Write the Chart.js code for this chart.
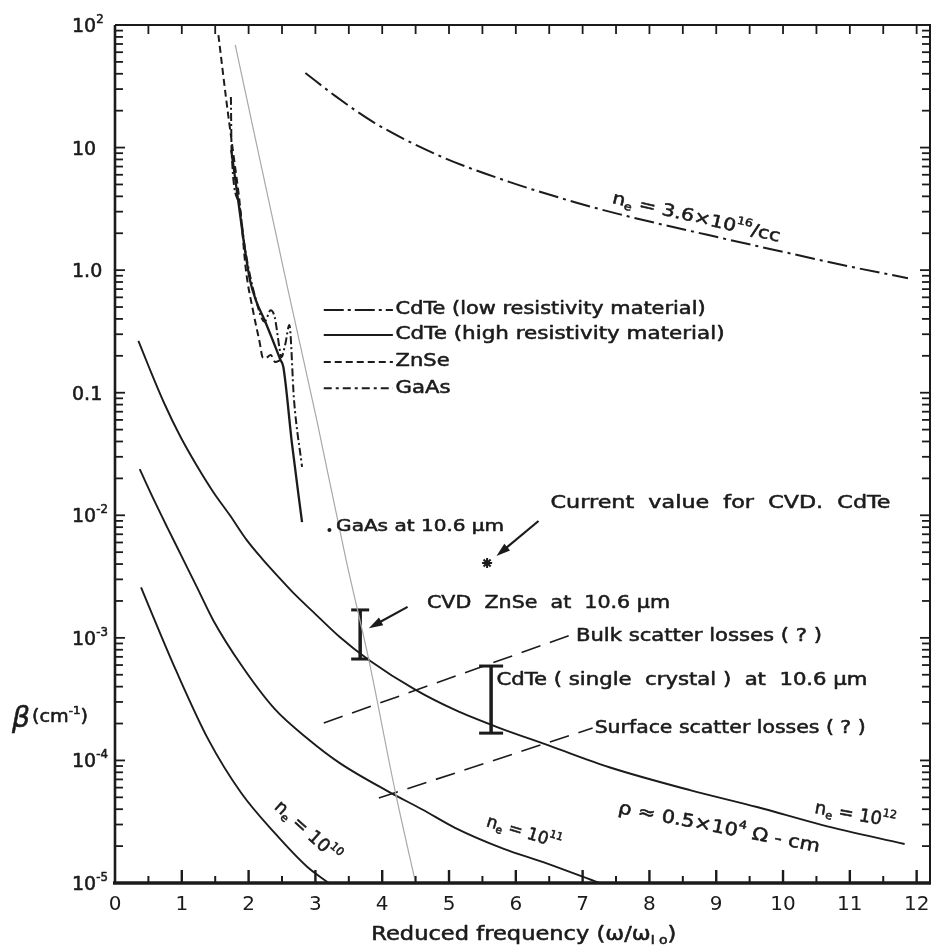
<!DOCTYPE html>
<html><head><meta charset="utf-8">
<script src="https://cdn.jsdelivr.net/npm/chart.js@4/dist/chart.umd.min.js"></script>
<style>html,body{margin:0;padding:0;background:#fff}#c{display:block}</style>
</head><body>
<canvas id="c" width="945" height="950"></canvas>
<script>
// ---------------- data ----------------
const xTickVals = [0,1,2,3,4,5,6,7,8,9,10,11,12];
const yDecades = [1e-5,1e-4,1e-3,1e-2,1e-1,1,10,100];
const yDecadeLabels = [["10","-5"],["10","-4"],["10","-3"],["10","-2"],["0.1",""],["1.0",""],["10",""],["10","2"]];

// n_e = 3.6e16/cc (CdTe low resistivity)
const ne16X = [2.85, 3.3, 3.89, 4.87, 5.9, 6.91, 7.56, 8.85, 10.13, 11.0, 11.87];
const ne16Y = [40.6, 26.3, 15.85, 8.5, 5.25, 3.55, 2.85, 1.95, 1.36, 1.07, 0.86];
// n_e = 10^12
const ne12X = [0.35, 0.5, 0.74, 0.98, 1.23, 1.47, 1.72, 1.97, 2.21, 2.46, 2.70, 2.95, 3.36, 3.80, 4.50, 5.09, 5.72, 6.5, 7.40, 8.62, 9.61, 10.59, 11.82];
const ne12Y = [0.265, 0.166, 0.0813, 0.0437, 0.0251, 0.0155, 0.0100, 6.3e-3, 4.37e-3, 3.09e-3, 2.24e-3, 1.66e-3, 1.02e-3, 6.6e-4, 3.76e-4, 2.58e-4, 1.87e-4, 1.32e-4, 8.8e-5, 5.7e-5, 4.17e-5, 2.97e-5, 2.08e-5];
// n_e = 10^11
const ne11X = [0.37, 0.59, 0.786, 0.983, 1.228, 1.474, 1.89, 2.39, 2.88, 3.36, 4.08, 4.60, 5.09, 5.82, 6.41, 7.25];
const ne11Y = [0.0238, 0.0131, 7.9e-3, 4.8e-3, 2.58e-3, 1.38e-3, 6.0e-4, 2.63e-4, 1.51e-4, 9.55e-5, 5.62e-5, 3.98e-5, 2.82e-5, 1.9e-5, 1.48e-5, 1e-5];
// n_e = 10^10
const ne10X = [0.39, 0.64, 0.91, 1.40, 1.89, 2.39, 2.88, 3.20];
const ne10Y = [2.58e-3, 1.21e-3, 5.47e-4, 1.47e-4, 5.42e-5, 2.56e-5, 1.35e-5, 1e-5];
// faint straight line
const faintX = [1.80, 2.58, 3.02, 3.46, 3.80, 4.20, 4.50];
const faintY = [68.7, 0.73, 0.06, 4.3e-3, 6.6e-4, 5.4e-5, 1e-5];
// lattice absorption curves
const cdteHiX = [1.74, 1.843, 1.946, 2.02, 2.108, 2.24, 2.36, 2.477, 2.52, 2.65, 2.80];
const cdteHiY = [9.55, 3.73, 1.46, 0.83, 0.57, 0.39, 0.269, 0.185, 0.162, 0.038, 8.8e-3];
const znseX = [1.548, 1.666, 1.77, 1.87, 1.96, 2.064, 2.167, 2.21, 2.256, 2.33, 2.40, 2.477];
const znseY = [82.8, 24.4, 9.0, 3.4, 1.0, 0.473, 0.255, 0.195, 0.192, 0.203, 0.178, 0.185];
const gaasX = [1.735, 1.745, 1.85, 1.95, 2.10, 2.24, 2.33, 2.39, 2.46, 2.49, 2.55, 2.61, 2.68, 2.80];
const gaasY = [25.9, 9.5, 3.6, 1.45, 0.6, 0.38, 0.47, 0.415, 0.236, 0.195, 0.25, 0.356, 0.087, 0.0248];
// scatter-loss lines
const bulkX = [3.125, 6.855];
const bulkY = [2.02e-4, 1.07e-3];
const surfX = [3.95, 7.15];
const surfY = [4.93e-5, 1.84e-4];
// measurements
const znseBarX = [3.67, 3.67];
const znseBarY = [1.69e-3, 6.72e-4];
const cdteBarX = [5.63, 5.63];
const cdteBarY = [5.89e-4, 1.67e-4];
const starPt = [5.57, 4.08e-3];
const gaasPt = [3.21, 7.59e-3];

// ---------------- text / annotation placement (data coords) ----------------
const FONT = '"DejaVu Sans", sans-serif';
const INK = '#1b1b1b';
const notes = [
  {x:8.70, y:2.66, rot:13, align:'center', size:17, w:172, parts:[['n',''],['e','sub'],[' = 3.6×10',''],['16','sup'],['/cc','']]},
  {x:11.08, y:3.55e-5, rot:10, align:'center', size:18, parts:[['n',''],['e','sub'],[' = 10',''],['12','sup']]},
  {x:9.04, y:2.81e-5, rot:11, align:'center', size:18, w:205, parts:[['ρ ≈ 0.5×10',''],['4','sup'],[' Ω - cm','']]},
  {x:6.12, y:2.56e-5, rot:17, align:'center', size:17, parts:[['n',''],['e','sub'],[' = 10',''],['11','sup']]},
  {x:2.875, y:2.61e-5, rot:42, align:'center', size:18, parts:[['n',''],['e','sub'],[' = 10',''],['10','sup']]},
  {x:3.31, y:8.0e-3, size:16, w:168, parts:[['GaAs at 10.6 µm','']]},
  {x:6.52, y:0.0126, size:18, w:340, parts:[['Current  value  for  CVD.  CdTe','']]},
  {x:4.67, y:1.92e-3, size:18, w:243, parts:[['CVD  ZnSe  at  10.6 µm','']]},
  {x:6.90, y:1.035e-3, size:18, w:246, parts:[['Bulk scatter losses ( ? )','']]},
  {x:5.71, y:4.53e-4, size:18, w:371, parts:[['CdTe ( single  crystal )  at  10.6 µm','']]},
  {x:7.18, y:1.84e-4, size:18, w:271, parts:[['Surface scatter losses ( ? )','']]}
];
const legendRows = [
  {y:0.473, dash:[20,4,3,4], text:'CdTe (low resistivity material)', w:310},
  {y:0.296, dash:[], text:'CdTe (high resistivity material)', w:329},
  {y:0.178, dash:[7,4], text:'ZnSe', w:54},
  {y:0.109, dash:[8,4,3,4], text:'GaAs', w:55}
];
const legendLineX = [3.125, 4.16];
const legendTextX = 4.2;
const arrows = [
  {from:[6.34, 8.98e-3], to:[5.71, 4.65e-3]},
  {from:[4.38, 1.79e-3], to:[3.80, 1.2e-3]}
];

// ---------------- helpers ----------------
const mk = (xs, ys) => xs.map((x, i) => ({x: x, y: ys[i]}));
function fontFor(k, size){
  const s = (k === 'sup' || k === 'sub') ? size * 0.62 : size;
  return (k === 'it' ? 'italic ' : '') + s + 'px ' + FONT;
}
function measureRich(ctx, parts, size){
  let w = 0;
  for (const [t, k] of parts){ ctx.font = fontFor(k, size); w += ctx.measureText(t).width; }
  return w;
}
function drawRich(ctx, parts, x, y, size){
  let cx = x;
  ctx.textBaseline = 'middle'; ctx.textAlign = 'left';
  ctx.lineWidth = 0.55; ctx.lineJoin = 'round';
  for (const [t, k] of parts){
    ctx.font = fontFor(k, size);
    const dy = k === 'sup' ? -size * 0.38 : (k === 'sub' ? size * 0.3 : 0);
    ctx.fillText(t, cx, y + dy);
    ctx.strokeText(t, cx, y + dy);
    cx += ctx.measureText(t).width;
  }
}
function drawLabel(ctx, a, X, Y){
  ctx.save();
  ctx.translate(X, Y);
  if (a.rot) ctx.rotate(a.rot * Math.PI / 180);
  const w = measureRich(ctx, a.parts, a.size);
  if (a.w) ctx.scale(a.w / w, 1);
  const x0 = a.align === 'center' ? -w / 2 : 0;
  drawRich(ctx, a.parts, x0, 0, a.size);
  ctx.restore();
}

const decorPlugin = {
  id: 'decor',
  afterDatasetsDraw(chart){
    const ctx = chart.ctx, xs = chart.scales.x, ys = chart.scales.y, A = chart.chartArea;
    const P = (x, y) => [xs.getPixelForValue(x), ys.getPixelForValue(y)];
    ctx.save();
    ctx.strokeStyle = INK; ctx.fillStyle = INK; ctx.lineCap = 'butt';
    // frame
    ctx.lineWidth = 2;
    ctx.beginPath(); ctx.moveTo(A.left, A.top); ctx.lineTo(A.right, A.top); ctx.lineTo(A.right, A.bottom); ctx.stroke();
    ctx.lineWidth = 2.6;
    ctx.beginPath(); ctx.moveTo(A.left, A.top); ctx.lineTo(A.left, A.bottom); ctx.stroke();
    ctx.lineWidth = 3.5;
    ctx.beginPath(); ctx.moveTo(A.left - 2, A.bottom); ctx.lineTo(A.right + 1, A.bottom); ctx.stroke();
    // x ticks (inward)
    for (let v = 0.5; v <= 12.01; v += 0.5){
      const p = xs.getPixelForValue(v);
      const major = Math.abs(v - Math.round(v)) < 1e-6;
      ctx.lineWidth = major ? 2.4 : 2;
      ctx.beginPath(); ctx.moveTo(p, A.bottom); ctx.lineTo(p, A.bottom - (major ? 13 : 7)); ctx.stroke();
      ctx.lineWidth = 1.8;
      ctx.beginPath(); ctx.moveTo(p, A.top); ctx.lineTo(p, A.top + 9); ctx.stroke();
    }
    // y ticks (inward, both sides)
    ctx.lineWidth = 1.8;
    for (let d = 0; d < yDecades.length; d++){
      const dec = yDecades[d];
      for (let m = 1; m <= 9; m++){
        const v = dec * m;
        if (v > 100.0001) break;
        const p = ys.getPixelForValue(v);
        const len = m === 1 ? 10 : 8;
        ctx.beginPath(); ctx.moveTo(A.left, p); ctx.lineTo(A.left + len, p); ctx.stroke();
        ctx.beginPath(); ctx.moveTo(A.right, p); ctx.lineTo(A.right - len, p); ctx.stroke();
      }
    }
    // y labels
    yDecades.forEach((v, i) => {
      const [base, sup] = yDecadeLabels[i];
      const parts = sup ? [[base, ''], [sup, 'sup']] : [[base, '']];
      drawLabel(ctx, {size: 19, parts: parts}, A.left - 43, ys.getPixelForValue(v) + 2);
    });
    // axis titles
    const xt = {align: 'center', size: 19, w: 305, parts: [['Reduced frequency (ω/ω', ''], ['l o', 'sub'], [')', '']]};
    drawLabel(ctx, xt, xs.getPixelForValue(6.12), A.bottom + 52);
    const yb = ys.getPixelForValue(2.14e-4);
    drawLabel(ctx, {size: 28, w: 18, parts: [['β', 'it']]}, A.left - 103, yb);
    drawLabel(ctx, {size: 17, w: 56, parts: [['(cm', ''], ['-1', 'sup'], [')', '']]}, A.left - 83, yb - 2);
    // notes
    for (const a of notes){ const [X, Y] = P(a.x, a.y); drawLabel(ctx, a, X, Y); }
    // legend
    for (const r of legendRows){
      const [x1, y1] = P(legendLineX[0], r.y), [x2] = P(legendLineX[1], r.y);
      ctx.lineWidth = 2; ctx.setLineDash(r.dash);
      ctx.beginPath(); ctx.moveTo(x1, y1); ctx.lineTo(x2, y1); ctx.stroke();
      ctx.setLineDash([]);
      const [tx] = P(legendTextX, r.y);
      drawLabel(ctx, {size: 17, w: r.w, parts: [[r.text, '']]}, tx, y1);
    }
    // arrows
    for (const ar of arrows){
      const [x1, y1] = P(ar.from[0], ar.from[1]), [x2, y2] = P(ar.to[0], ar.to[1]);
      const ang = Math.atan2(y2 - y1, x2 - x1);
      ctx.lineWidth = 2.2;
      ctx.beginPath(); ctx.moveTo(x1, y1); ctx.lineTo(x2 - Math.cos(ang) * 8, y2 - Math.sin(ang) * 8); ctx.stroke();
      ctx.beginPath();
      ctx.moveTo(x2, y2);
      ctx.lineTo(x2 - Math.cos(ang) * 14 + Math.sin(ang) * 4.5, y2 - Math.sin(ang) * 14 - Math.cos(ang) * 4.5);
      ctx.lineTo(x2 - Math.cos(ang) * 14 - Math.sin(ang) * 4.5, y2 - Math.sin(ang) * 14 + Math.cos(ang) * 4.5);
      ctx.closePath(); ctx.fill();
    }
    ctx.restore();
  }
};

const base = {fill: false, pointRadius: 0, borderColor: INK, backgroundColor: INK};
const smooth = {cubicInterpolationMode: 'monotone'};
new Chart(document.getElementById('c'), {
  type: 'line',
  data: {datasets: [
    Object.assign({}, base, smooth, {data: mk(faintX, faintY), borderColor: '#a8a8a8', borderWidth: 1.2}),
    Object.assign({}, base, smooth, {data: mk(ne16X, ne16Y), borderWidth: 2, borderDash: [20, 5, 3, 5]}),
    Object.assign({}, base, smooth, {data: mk(ne12X, ne12Y), borderWidth: 1.9}),
    Object.assign({}, base, smooth, {data: mk(ne11X, ne11Y), borderWidth: 1.9}),
    Object.assign({}, base, smooth, {data: mk(ne10X, ne10Y), borderWidth: 1.9}),
    Object.assign({}, base, smooth, {data: mk(cdteHiX, cdteHiY), borderWidth: 2.3}),
    Object.assign({}, base, smooth, {data: mk(znseX, znseY), borderWidth: 2, borderDash: [7, 4]}),
    Object.assign({}, base, smooth, {data: mk(gaasX, gaasY), borderWidth: 2, borderDash: [8, 3, 2, 3]}),
    Object.assign({}, base, {data: mk(bulkX, bulkY), borderWidth: 1.6, borderDash: [20, 10], tension: 0}),
    Object.assign({}, base, {data: mk(surfX, surfY), borderWidth: 1.6, borderDash: [20, 10], tension: 0}),
    Object.assign({}, base, {data: mk(znseBarX, znseBarY), borderWidth: 3.5, pointStyle: 'line', pointRadius: 9, pointBorderWidth: 3, pointBorderColor: INK}),
    Object.assign({}, base, {data: mk(cdteBarX, cdteBarY), borderWidth: 3.5, pointStyle: 'line', pointRadius: 12, pointBorderWidth: 3, pointBorderColor: INK}),
    Object.assign({}, base, {data: [{x: starPt[0], y: starPt[1]}], showLine: false, pointStyle: 'star', pointRadius: 5, pointBorderWidth: 2, pointBorderColor: INK}),
    Object.assign({}, base, {data: [{x: gaasPt[0], y: gaasPt[1]}], showLine: false, pointStyle: 'circle', pointRadius: 2, pointBorderWidth: 0})
  ]},
  options: {
    responsive: false, animation: false, devicePixelRatio: 1,
    layout: {padding: {left: 115, right: 2, top: 25, bottom: 0}},
    plugins: {legend: {display: false}, tooltip: {enabled: false}},
    events: [],
    scales: {
      x: {type: 'linear', min: 0, max: 12.2,
          grid: {display: false, drawTicks: false}, border: {display: false},
          afterBuildTicks: s => { s.ticks = xTickVals.map(v => ({value: v})); },
          afterFit: s => { s.height = 67; },
          ticks: {font: {family: FONT, size: 20}, color: INK, padding: 10, maxRotation: 0, autoSkip: false,
                  callback: v => String(v)}},
      y: {type: 'logarithmic', min: 1e-5, max: 100, display: false}
    }
  },
  plugins: [decorPlugin]
});
</script>
</body></html>
